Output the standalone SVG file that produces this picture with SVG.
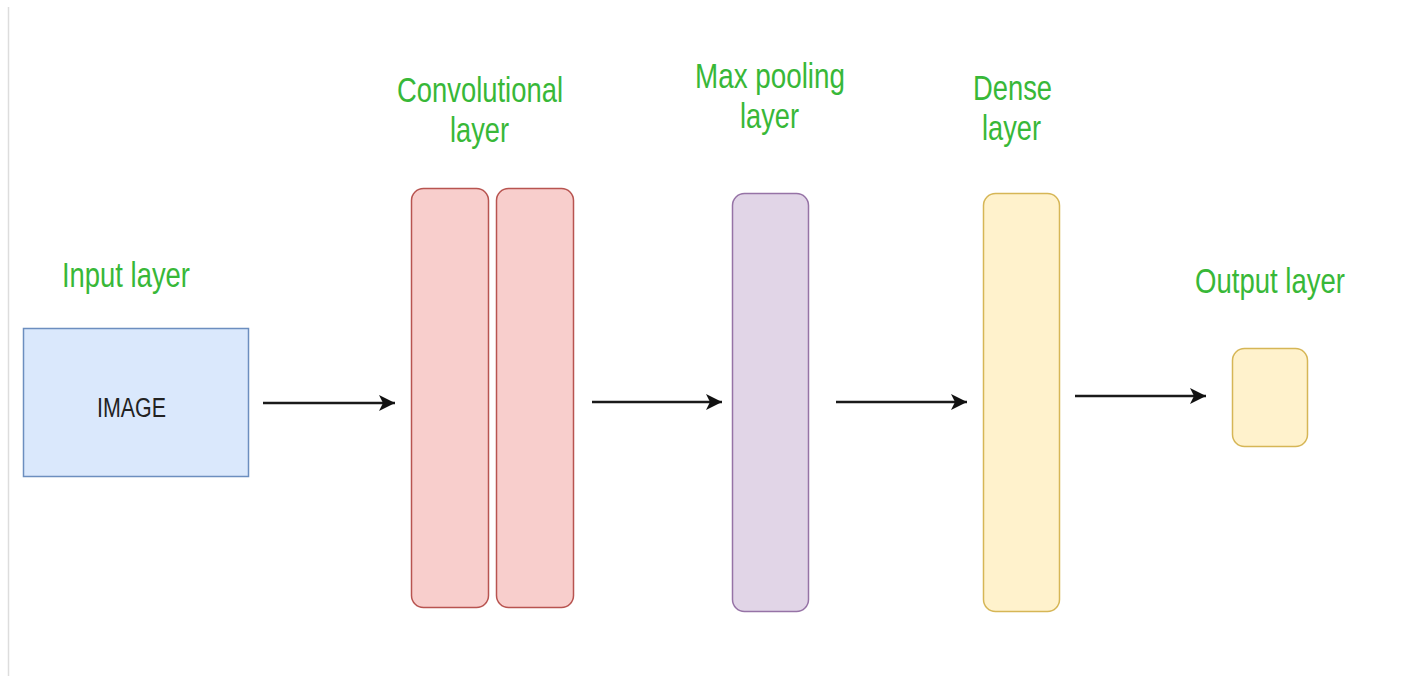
<svg xmlns="http://www.w3.org/2000/svg" width="1421" height="676" viewBox="0 0 1421 676">
  <style>
    .lbl { font-family: "Liberation Sans", Arial, sans-serif; font-size: 35px; fill: #38b838; }
    .box { stroke-width: 1.5; }
    .conv { fill: #f8cecc; stroke: #b85450; }
    .pool { fill: #e1d5e7; stroke: #9673a6; }
    .dense { fill: #fff2cc; stroke: #d6b656; }
    .input { fill: #dae8fc; stroke: #6c8ebf; }
    .edge { stroke: #1a1a1a; stroke-width: 2.5; fill: none; marker-end: url(#arrow); }
    .inner { font-family: "Liberation Sans", Arial, sans-serif; font-size: 27px; fill: #222; }
  </style>
  <defs>
    <marker id="arrow" markerUnits="userSpaceOnUse" markerWidth="18" markerHeight="16" refX="16" refY="8" orient="auto">
      <path d="M0,0 L16,8 L0,16 L4,8 Z" fill="#111"/>
    </marker>
  </defs>
  <rect width="1421" height="676" fill="#ffffff"/>
  <line x1="8.5" y1="7" x2="8.5" y2="676" stroke="#dddddd" stroke-width="1.5"/>

  <g id="input-layer">
    <text class="lbl" x="62" y="287" textLength="128" lengthAdjust="spacingAndGlyphs">Input layer</text>
    <rect class="box input" x="23.5" y="328.5" width="225" height="148"/>
    <text class="inner" x="97" y="417" textLength="69" lengthAdjust="spacingAndGlyphs">IMAGE</text>
  </g>

  <g id="conv-layer">
    <text class="lbl" x="397" y="102" textLength="166" lengthAdjust="spacingAndGlyphs">Convolutional</text>
    <text class="lbl" x="450" y="142" textLength="59" lengthAdjust="spacingAndGlyphs">layer</text>
    <rect class="box conv" x="411.5" y="188.5" width="77" height="419" rx="12"/>
    <rect class="box conv" x="496.5" y="188.5" width="77" height="419" rx="12"/>
  </g>

  <g id="pool-layer">
    <text class="lbl" x="695" y="88" textLength="150" lengthAdjust="spacingAndGlyphs">Max pooling</text>
    <text class="lbl" x="740" y="128" textLength="59" lengthAdjust="spacingAndGlyphs">layer</text>
    <rect class="box pool" x="732.5" y="193.5" width="76" height="418" rx="12"/>
  </g>

  <g id="dense-layer">
    <text class="lbl" x="973" y="100" textLength="79" lengthAdjust="spacingAndGlyphs">Dense</text>
    <text class="lbl" x="982" y="140" textLength="59" lengthAdjust="spacingAndGlyphs">layer</text>
    <rect class="box dense" x="983.5" y="193.5" width="76" height="418" rx="12"/>
  </g>

  <g id="output-layer">
    <text class="lbl" x="1195" y="293" textLength="150" lengthAdjust="spacingAndGlyphs">Output layer</text>
    <rect class="box dense" x="1232.5" y="348.5" width="75" height="98" rx="12"/>
  </g>

  <g id="connectors">
    <line class="edge" x1="263" y1="403" x2="395" y2="403"/>
    <line class="edge" x1="592" y1="402" x2="722" y2="402"/>
    <line class="edge" x1="836" y1="402" x2="967" y2="402"/>
    <line class="edge" x1="1075" y1="396" x2="1206" y2="396"/>
  </g>
</svg>
